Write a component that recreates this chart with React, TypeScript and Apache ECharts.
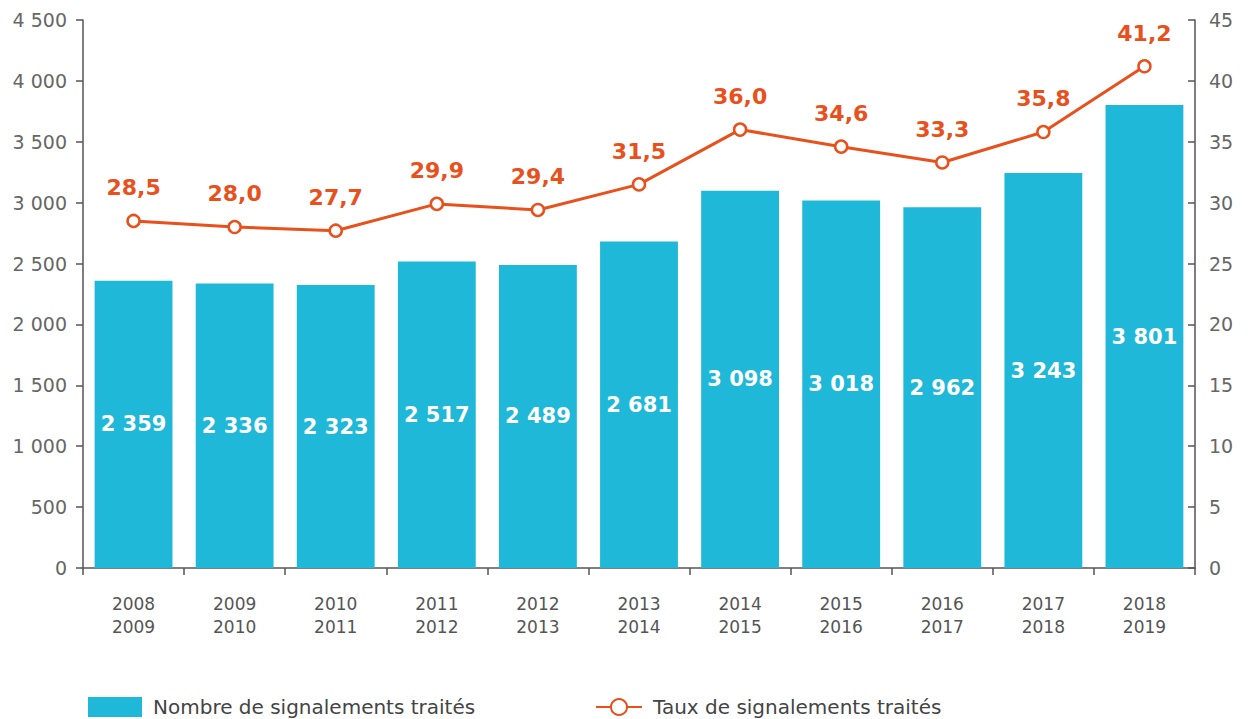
import React, { useEffect, useRef } from "react";
import * as echarts from "echarts";

const categories = ["2008\n2009", "2009\n2010", "2010\n2011", "2011\n2012", "2012\n2013", "2013\n2014", "2014\n2015", "2015\n2016", "2016\n2017", "2017\n2018", "2018\n2019"];
const counts = [2359, 2336, 2323, 2517, 2489, 2681, 3098, 3018, 2962, 3243, 3801];
const rates = [28.5, 28.0, 27.7, 29.9, 29.4, 31.5, 36.0, 34.6, 33.3, 35.8, 41.2];
const barName = "Nombre de signalements traités";
const lineName = "Taux de signalements traités";

const FONT = "'DejaVu Sans', 'Noto Sans', sans-serif";
const fmtThousands = (v: number) => String(v).replace(/\B(?=(\d{3})+(?!\d))/g, " ");

export default function App() {
  const ref = useRef<HTMLDivElement>(null);
  useEffect(() => {
    const chart = echarts.init(ref.current!, null, { renderer: "svg" });
    const legendText = { fontSize: 20, color: "#444", fontFamily: FONT, padding: [0, 0, 0, 6] };
    chart.setOption({
      animation: false,
      textStyle: { fontFamily: FONT },
      grid: { left: 83, right: 53, top: 20, bottom: 151 },
      legend: [
        {
          top: 692,
          left: 83,
          itemWidth: 54,
          itemHeight: 20,
          textStyle: legendText,
          data: [{ name: barName, icon: "rect" }],
        },
        {
          top: 692,
          left: 590,
          itemWidth: 46,
          itemHeight: 20,
          textStyle: legendText,
          data: [{ name: lineName }],
        },
      ],
      xAxis: {
        type: "category",
        data: categories,
        axisLine: { lineStyle: { color: "#555", width: 1.5 } },
        axisTick: { show: true, length: 7, lineStyle: { color: "#555", width: 1.5 } },
        axisLabel: { color: "#555", fontSize: 17, lineHeight: 23, margin: 24, fontFamily: FONT },
      },
      yAxis: [
        {
          type: "value",
          min: 0,
          max: 4500,
          interval: 500,
          splitLine: { show: false },
          axisLine: { show: true, lineStyle: { color: "#555", width: 1.5 } },
          axisTick: { show: true, length: 7, lineStyle: { color: "#555", width: 1.5 } },
          axisLabel: { color: "#666", fontSize: 19, margin: 16, formatter: (v: number) => fmtThousands(v), fontFamily: FONT },
        },
        {
          type: "value",
          min: 0,
          max: 45,
          interval: 5,
          splitLine: { show: false },
          axisLine: { show: true, lineStyle: { color: "#555", width: 1.5 } },
          axisTick: { show: true, inside: true, length: 7, lineStyle: { color: "#555", width: 1.5 } },
          axisLabel: { color: "#666", fontSize: 19, margin: 14, fontFamily: FONT },
        },
      ],
      series: [
        {
          name: barName,
          type: "bar",
          data: counts,
          barWidth: "77%",
          itemStyle: { color: "#1FB8D8" },
          label: {
            show: true,
            position: "inside",
            color: "#fff",
            fontWeight: "bold",
            fontSize: 21,
            fontFamily: FONT,
            formatter: (p: any) => fmtThousands(p.value),
          },
        },
        {
          name: lineName,
          type: "line",
          yAxisIndex: 1,
          data: rates,
          symbol: "circle",
          symbolSize: 12,
          lineStyle: { color: "#E8501C", width: 3 },
          itemStyle: { color: "#fff", borderColor: "#E8501C", borderWidth: 2.5 },
          label: {
            show: true,
            position: "top",
            distance: 15,
            color: "#E8501C",
            fontWeight: "bold",
            fontSize: 22,
            fontFamily: FONT,
            formatter: (p: any) => p.value.toFixed(1).replace(".", ","),
          },
        },
      ],
    });
    return () => chart.dispose();
  }, []);
  return <div ref={ref} style={{ width: 1248, height: 719, position: "absolute", left: 0, top: 0 }} />;
}
